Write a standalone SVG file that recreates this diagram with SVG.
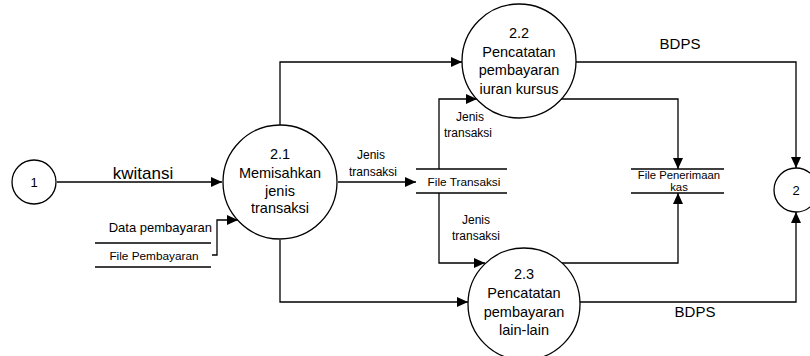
<svg xmlns="http://www.w3.org/2000/svg" width="810" height="356" viewBox="0 0 810 356">
<style>
text{font-family:"Liberation Sans",Arial,sans-serif;fill:#000}
.n{font-size:14.5px;text-anchor:middle}
.lbl{font-size:12px;text-anchor:middle}
.st{font-size:11.8px;text-anchor:middle}
.proc{fill:#fff;stroke:#000;stroke-width:1.3}
.ln{fill:none;stroke:#000;stroke-width:1.3}
.arr{marker-end:url(#ah)}
</style>
<defs>
<marker id="ah" markerUnits="userSpaceOnUse" markerWidth="12" markerHeight="10" refX="11" refY="5" orient="auto">
<path d="M0,0 L11,5 L0,10 Z" fill="#000"/>
</marker>
</defs>
<rect width="810" height="356" fill="#fff"/>
<g id="connectors">
<line class="ln arr" x1="57" y1="182" x2="222" y2="182"/>
<polyline class="ln arr" points="212,255 217,255 217,220 238,220"/>
<polyline class="ln arr" points="280,125 280,62 462,62"/>
<line class="ln arr" x1="338" y1="182" x2="416" y2="182"/>
<polyline class="ln arr" points="280,240 280,302 468,302"/>
<polyline class="ln arr" points="439,169 439,99 477,99"/>
<polyline class="ln arr" points="439,193 439,263 485,263"/>
<polyline class="ln arr" points="576,62 796,62 796,168"/>
<polyline class="ln arr" points="561,99 678,99 678,169"/>
<polyline class="ln arr" points="562,263 678,263 678,193"/>
<polyline class="ln arr" points="580,302 796,302 796,212"/>
<text x="143" y="179" style="font-size:17px;text-anchor:middle">kwitansi</text>
<text class="lbl" x="371" y="159">Jenis</text>
<text class="lbl" x="373" y="176">transaksi</text>
<text class="lbl" x="470" y="121">Jenis</text>
<text class="lbl" x="468" y="137">transaksi</text>
<text class="lbl" x="476" y="224">Jenis</text>
<text class="lbl" x="476" y="240">transaksi</text>
<text x="680" y="49" style="font-size:15px;text-anchor:middle">BDPS</text>
<text x="695" y="317" style="font-size:15px;text-anchor:middle">BDPS</text>
</g>
<g id="ext1">
<circle class="proc" cx="34" cy="182" r="22"/>
<text x="34" y="187" style="font-size:13px;text-anchor:middle">1</text>
</g>
<g id="ext2">
<circle class="proc" cx="796" cy="190" r="22"/>
<text x="796" y="195" style="font-size:13px;text-anchor:middle">2</text>
</g>
<g id="p21">
<circle class="proc" cx="280" cy="182" r="57"/>
<text class="n" x="280" y="159">2.1</text>
<text class="n" x="280" y="178">Memisahkan</text>
<text class="n" x="280" y="196">jenis</text>
<text class="n" x="280" y="213">transaksi</text>
</g>
<g id="p22">
<circle class="proc" cx="519" cy="61" r="57"/>
<text class="n" x="519" y="38">2.2</text>
<text class="n" x="519" y="57">Pencatatan</text>
<text class="n" x="519" y="75">pembayaran</text>
<text class="n" x="519" y="94">iuran kursus</text>
</g>
<g id="p23">
<circle class="proc" cx="524" cy="304" r="56"/>
<text class="n" x="524" y="279">2.3</text>
<text class="n" x="524" y="298">Pencatatan</text>
<text class="n" x="524" y="317">pembayaran</text>
<text class="n" x="524" y="335">lain-lain</text>
</g>
<g id="ds-pembayaran">
<text x="212" y="232" style="font-size:13px;text-anchor:end">Data pembayaran</text>
<line class="ln" x1="95" y1="243" x2="211" y2="243"/>
<line class="ln" x1="95" y1="267" x2="211" y2="267"/>
<text class="st" x="154" y="260">File Pembayaran</text>
</g>
<g id="ds-transaksi">
<line class="ln" x1="416" y1="169" x2="507" y2="169"/>
<line class="ln" x1="416" y1="193" x2="507" y2="193"/>
<text class="st" x="464" y="186">File Transaksi</text>
</g>
<g id="ds-penerimaan">
<line class="ln" x1="631" y1="169" x2="724" y2="169"/>
<line class="ln" x1="631" y1="193" x2="724" y2="193"/>
<text x="679" y="179" style="font-size:11.3px;text-anchor:middle">File Penerimaan</text>
<text x="679" y="191" style="font-size:11.3px;text-anchor:middle">kas</text>
</g>
</svg>
